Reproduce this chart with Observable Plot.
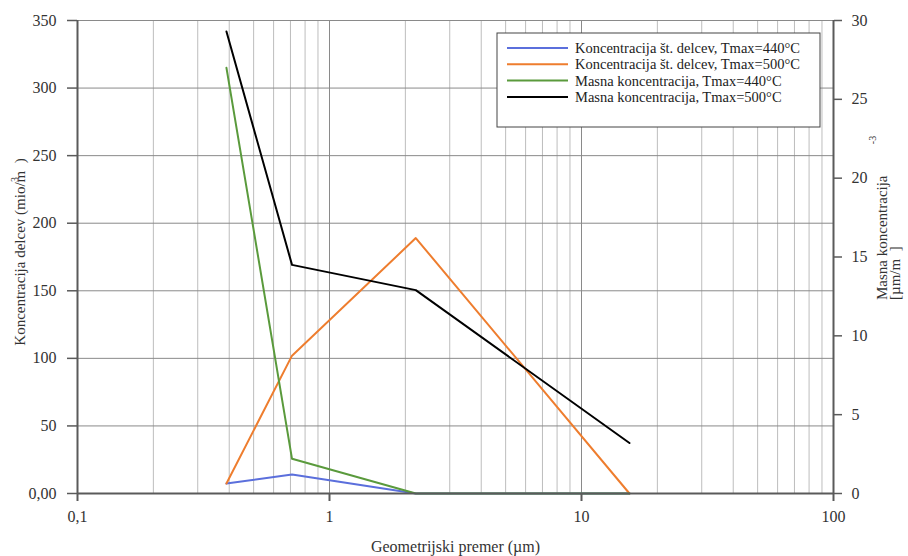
<!DOCTYPE html>
<html>
<head>
<meta charset="utf-8">
<script src="https://cdn.jsdelivr.net/npm/d3@7"></script>
<script src="https://cdn.jsdelivr.net/npm/@observablehq/plot@0.6"></script>
<style>
  html, body { margin: 0; padding: 0; background: #fff; }
  #chart { width: 908px; height: 556px; }
  #chart svg, #chart svg text { font-family: "Liberation Serif", "Times New Roman", serif; }
</style>
</head>
<body>
<div id="chart"></div>
<script>
// Geometric diameter of each size class (µm)
const diameters = [0.39, 0.71, 2.2, 15.5];

// Particle number concentration (mio/m³) – left axis
const number440 = [7.4, 14, 0, 0];
const number500 = [7.4, 102, 189, 0];

// Mass concentration (µm/m³) – right axis
const mass440 = [27.0, 2.2, 0, 0];
const mass500 = [29.3, 14.5, 12.9, 3.2];

const seriesNames = [
  "Koncentracija št. delcev, Tmax=440°C",
  "Koncentracija št. delcev, Tmax=500°C",
  "Masna koncentracija, Tmax=440°C",
  "Masna koncentracija, Tmax=500°C"
];
const seriesColors = ["#5b6fdc", "#ee7d2e", "#5a9a3c", "#000000"];

const xTicks = [0.1, 1, 10, 100];
const xMinor = [0.2, 0.3, 0.4, 0.5, 0.6, 0.7, 0.8, 0.9, 2, 3, 4, 5, 6, 7, 8, 9, 20, 30, 40, 50, 60, 70, 80, 90];
const leftTicks = [0, 50, 100, 150, 200, 250, 300, 350];
const rightTicks = [0, 5, 10, 15, 20, 25, 30];

const leftMax = 350, rightMax = 30;
const toLeft = v => v * leftMax / rightMax;

// Long-format rows; mass series are rescaled onto the left scale
const rows = [];
diameters.forEach((d, i) => {
  rows.push({d, v: number440[i], s: seriesNames[0]});
  rows.push({d, v: number500[i], s: seriesNames[1]});
  rows.push({d, v: toLeft(mass440[i]), s: seriesNames[2]});
  rows.push({d, v: toLeft(mass500[i]), s: seriesNames[3]});
});

const axisColor = "#5a5a5a";
const font = "Liberation Serif, Times New Roman, serif";

const plot = Plot.plot({
  width: 908,
  height: 556,
  marginLeft: 77,
  marginRight: 75,
  marginTop: 20,
  marginBottom: 63,
  style: {fontFamily: font, fontSize: "16px", color: "#333", background: "#fff"},
  x: {type: "log", domain: [0.1, 100]},
  y: {domain: [0, leftMax]},
  color: {domain: seriesNames, range: seriesColors},
  marks: [
    Plot.gridX(xMinor, {stroke: "#bdbdbd", strokeOpacity: 1, strokeWidth: 1}),
    Plot.gridX([1, 10], {stroke: "#8a8a8a", strokeOpacity: 1, strokeWidth: 1}),
    Plot.gridY(leftTicks.slice(1), {stroke: "#8a8a8a", strokeOpacity: 1, strokeWidth: 1}),
    Plot.line(rows, {x: "d", y: "v", z: "s", stroke: "s", strokeWidth: 2}),
    Plot.ruleY([0], {stroke: axisColor, strokeWidth: 2}),
    Plot.ruleX([0.1, 100], {stroke: axisColor, strokeWidth: 2}),
    Plot.axisX(xTicks, {
      tickFormat: d => String(d).replace(".", ","),
      tickSize: 8, tickPadding: 9, stroke: axisColor, strokeWidth: 2,
      label: "Geometrijski premer (µm)", labelAnchor: "center", labelArrow: "none", labelOffset: 58
    }),
    Plot.axisY(leftTicks, {
      anchor: "left", tickSize: 10, tickPadding: 11, stroke: axisColor, strokeWidth: 1.5,
      tickFormat: d => d === 0 ? "0,00" : String(d), label: null
    }),
    Plot.axisY(rightTicks.map(toLeft), {
      anchor: "right", tickSize: 8, tickPadding: 10, stroke: axisColor, strokeWidth: 1.5,
      tickFormat: d => String(Math.round(d * rightMax / leftMax)), label: null
    })
  ]
});

document.getElementById("chart").appendChild(plot);

// Axis titles and legend drawn into the same SVG
const svg = d3.select(plot);

const leftTitle = svg.append("g").attr("transform", "translate(25,252) rotate(-90)")
  .attr("font-family", font).attr("font-size", 15).attr("fill", "#333");
leftTitle.append("text").attr("text-anchor", "middle").text("Koncentracija delcev (mio/m  )");
leftTitle.append("text").attr("x", 70).attr("y", -7).attr("font-size", 10).attr("text-anchor", "start").text("3");

const rightTitle = svg.append("g").attr("font-family", font).attr("font-size", 15).attr("fill", "#333");
rightTitle.append("text").attr("transform", "translate(887,300) rotate(-90)")
  .attr("text-anchor", "start").text("Masna koncentracija");
rightTitle.append("text").attr("transform", "translate(900,300) rotate(-90)")
  .attr("text-anchor", "start").text("[µm/m  ]");
rightTitle.append("text").attr("transform", "translate(876,140) rotate(-90)")
  .attr("text-anchor", "middle").attr("font-size", 10).text("-3");

const legend = svg.append("g").attr("transform", "translate(497,33)");
legend.append("rect").attr("width", 323).attr("height", 94)
  .attr("fill", "#fff").attr("stroke", "#444").attr("stroke-width", 1);
seriesNames.forEach((name, i) => {
  const y = 15 + i * 16.3;
  legend.append("line").attr("x1", 10).attr("x2", 71).attr("y1", y).attr("y2", y)
    .attr("stroke", seriesColors[i]).attr("stroke-width", 2);
  legend.append("text").attr("x", 78).attr("y", y).attr("dy", "0.35em")
    .attr("text-anchor", "start")
    .attr("font-family", font).attr("font-size", 14.5).attr("fill", "#222").text(name);
});
</script>
</body>
</html>
